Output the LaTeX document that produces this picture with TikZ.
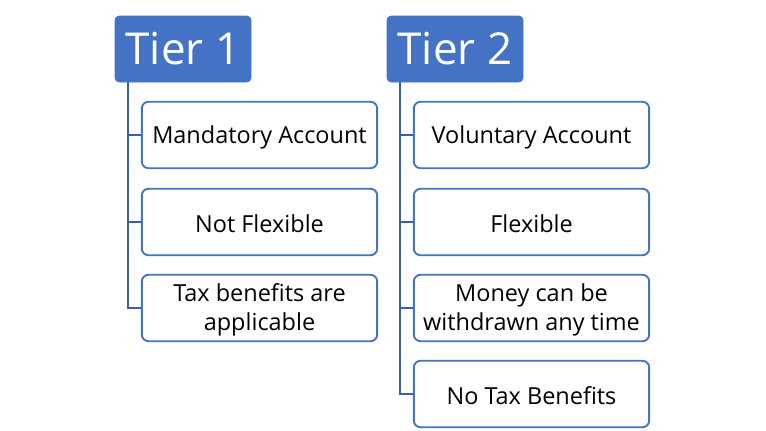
\documentclass[tikz,border=0pt]{standalone}
\usepackage{fontspec}
\setmainfont{Open Sans}
\definecolor{accent}{HTML}{4472C4}
\begin{document}
\begin{tikzpicture}[x=0.75pt,y=-0.75pt]
\tikzset{
  header/.style={fill=accent, draw=accent, rounded corners=3pt, text=white, minimum width=102pt, minimum height=49.5pt, inner sep=0pt, font=\fontsize{33}{36}\selectfont},
  item/.style={fill=white, draw=accent, line width=1.4pt, rounded corners=5pt, minimum width=176.5pt, minimum height=49.8pt, inner sep=0pt},
  itxt/.style={inner sep=0pt, align=center, font=\fontsize{17.6}{22}\selectfont},
  conn/.style={draw=accent!85!black, line width=1.4pt}
}
\useasboundingbox (0,0) rectangle (766,430);
\node[header] (h1) at (183,49) {Tier 1};
\node[header] (h2) at (455,49) {Tier 2};
\node[item] (a1) at (259.5,135) {};
\node[item] (a2) at (259.5,222) {};
\node[item] (a3) at (259.5,308) {};
\node[item] (b1) at (531.5,135) {};
\node[item] (b2) at (531.5,222) {};
\node[item] (b3) at (531.5,308) {};
\node[item] (b4) at (531.5,394) {};
\node[itxt] (ta1) at ([yshift=-1.5pt]a1.center) {Mandatory Account};
\node[itxt] (ta2) at ([yshift=-1.5pt]a2.center) {Not Flexible};
\node[itxt] (ta3) at ([yshift=-1.5pt]a3.center) {Tax benefits are\\applicable};
\node[itxt] (tb1) at ([yshift=-1.5pt]b1.center) {Voluntary Account};
\node[itxt] (tb2) at ([yshift=-1.5pt]b2.center) {Flexible};
\node[itxt] (tb3) at ([yshift=-1.5pt]b3.center) {Money can be\\withdrawn any time};
\node[itxt] (tb4) at ([yshift=-1.5pt]b4.center) {No Tax Benefits};
\coordinate (t1) at ([xshift=9.75pt]h1.south west);
\coordinate (t2) at ([xshift=9.75pt]h2.south west);
\draw[conn] (t1) |- (a1.west);
\draw[conn] (t1) |- (a2.west);
\draw[conn] (t1) |- (a3.west);
\draw[conn] (t2) |- (b1.west);
\draw[conn] (t2) |- (b2.west);
\draw[conn] (t2) |- (b3.west);
\draw[conn] (t2) |- (b4.west);
\end{tikzpicture}
\end{document}
